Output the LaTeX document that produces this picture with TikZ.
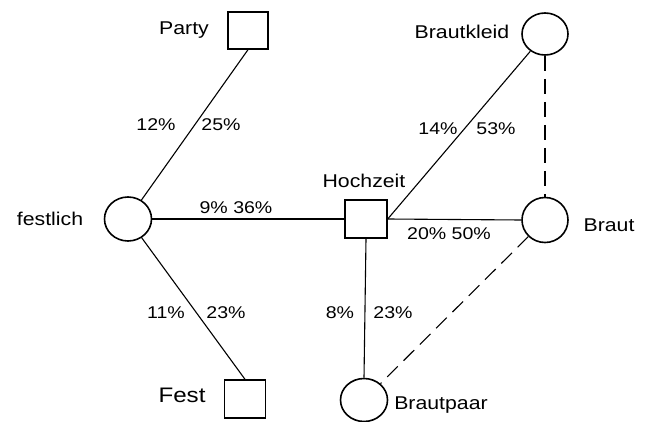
\documentclass[tikz,border=0pt]{standalone}
\usepackage{fontspec}
\setmainfont{Liberation Sans}[FakeStretch=1.15]
\usetikzlibrary{shapes.geometric}

\tikzset{
  concept/.style={ellipse, draw, line width=1.6pt, inner sep=0pt},
  wordbox/.style={rectangle, draw, line width=1.4pt, inner sep=0pt},
  wordtext/.style={anchor=base, inner sep=0pt, font=\fontsize{18.5}{22}\selectfont},
  pcttext/.style={anchor=base, inner sep=0pt, font=\fontsize{17}{20}\selectfont},
  link/.style={line width=1.1pt},
  assoc/.style={line width=1.1pt, dash pattern=on 15pt off 8pt},
}

\begin{document}
\begin{tikzpicture}[x=1pt, y=-1pt]
  \useasboundingbox (0,0) rectangle (650,422);

  % shapes
  \node[wordbox, minimum width=40pt, minimum height=37pt] (party) at (248,30.5) {};
  \node[concept, minimum width=47pt, minimum height=44pt] (festlich) at (128,219) {};
  \node[wordbox, minimum width=41pt, minimum height=38pt] (fest) at (245,399) {};
  \node[wordbox, minimum width=42pt, minimum height=38pt] (hochzeit) at (366,219) {};
  \node[concept, minimum width=46pt, minimum height=42pt] (brautkleid) at (545,34) {};
  \node[concept, minimum width=46pt, minimum height=45pt] (braut) at (545,220) {};
  \node[concept, minimum width=47pt, minimum height=43pt] (brautpaar) at (364,400) {};

  % labels of the shapes
  \node[wordtext] (tparty) at (184,35) {Party};
  \node[wordtext] (tfestlich) at (50,225) {festlich};
  \node[wordtext, font=\fontsize{21}{24}\selectfont] (tfest) at (182,402) {Fest};
  \node[wordtext] (thochzeit) at (364,188) {Hochzeit};
  \node[wordtext] (tbrautkleid) at (462,39) {Brautkleid};
  \node[wordtext] (tbraut) at (609,231) {Braut};
  \node[wordtext] (tbrautpaar) at (441,409) {Brautpaar};

  % connectors
  \draw[link] (party.south) -- (festlich);
  \draw[link] (festlich.east) -- (hochzeit.west);
  \draw[link] (festlich) -- (fest.north);
  \draw[link] (hochzeit.east) -- (brautkleid);
  \draw[link] (hochzeit.east) -- (braut.west);
  \draw[link] (hochzeit.south) -- (brautpaar.north);
  \draw[assoc] (brautkleid.south) -- (braut.north);
  \draw[assoc] (braut) -- (brautpaar);

  % percentages on the connectors
  \node[pcttext] (p1) at (156,131) {12\%};
  \node[pcttext] (p2) at (221,131) {25\%};
  \node[pcttext] (p3) at (236,213) {9\% 36\%};
  \node[pcttext] (p4) at (166,318) {11\%};
  \node[pcttext] (p5) at (226,318) {23\%};
  \node[pcttext] (p6) at (438,135) {14\%};
  \node[pcttext] (p7) at (496,135) {53\%};
  \node[pcttext] (p8) at (449,239) {20\% 50\%};
  \node[pcttext] (p9) at (340,318) {8\%};
  \node[pcttext] (p10) at (393,318) {23\%};
\end{tikzpicture}
\end{document}
